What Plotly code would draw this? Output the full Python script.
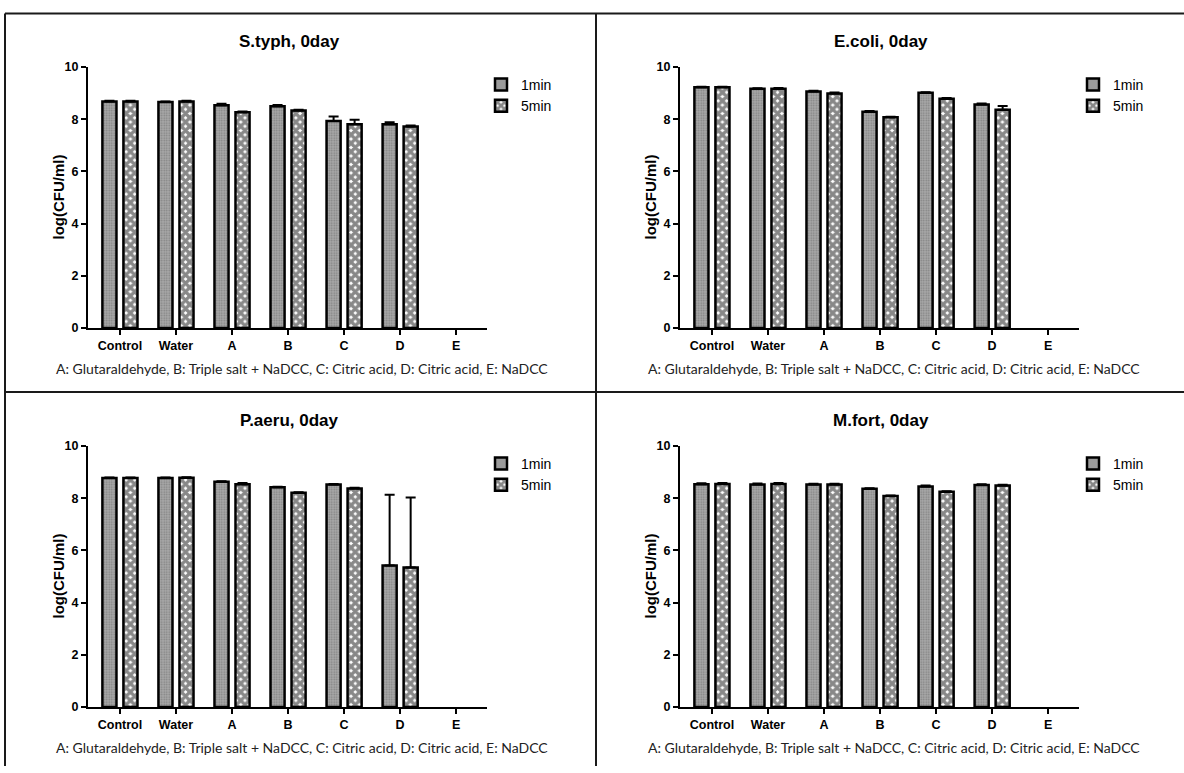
import plotly.graph_objects as go

W, H = 1184, 773

categories = ["Control", "Water", "A", "B", "C", "D", "E"]
series_names = ["1min", "5min"]
footnote = "A: Glutaraldehyde, B: Triple salt + NaDCC, C: Citric acid, D: Citric acid, E: NaDCC"

# mean log(CFU/ml) and upper SD for each organism (E: no colonies recovered)
styph_1 = [8.68, 8.66, 8.53, 8.49, 7.93, 7.80, None]
styph_1_err = [0.02, 0.02, 0.06, 0.05, 0.17, 0.08, None]
styph_5 = [8.68, 8.68, 8.26, 8.33, 7.80, 7.72, None]
styph_5_err = [0.02, 0.02, 0.03, 0.03, 0.18, 0.04, None]

ecoli_1 = [9.22, 9.16, 9.06, 8.28, 9.01, 8.56, None]
ecoli_1_err = [0.02, 0.02, 0.03, 0.03, 0.02, 0.04, None]
ecoli_5 = [9.22, 9.16, 8.98, 8.07, 8.78, 8.36, None]
ecoli_5_err = [0.02, 0.03, 0.04, 0.02, 0.03, 0.14, None]

paeru_1 = [8.77, 8.77, 8.63, 8.42, 8.52, 5.42, None]
paeru_1_err = [0.02, 0.02, 0.02, 0.02, 0.02, 2.71, None]
paeru_5 = [8.77, 8.78, 8.53, 8.21, 8.37, 5.34, None]
paeru_5_err = [0.02, 0.02, 0.05, 0.02, 0.03, 2.68, None]

mfort_1 = [8.53, 8.52, 8.52, 8.36, 8.45, 8.50, None]
mfort_1_err = [0.04, 0.04, 0.03, 0.02, 0.03, 0.03, None]
mfort_5 = [8.54, 8.54, 8.52, 8.08, 8.24, 8.48, None]
mfort_5_err = [0.04, 0.04, 0.03, 0.02, 0.02, 0.03, None]

panels = [
    ("S.typh, 0day", styph_1, styph_1_err, styph_5, styph_5_err),
    ("E.coli, 0day", ecoli_1, ecoli_1_err, ecoli_5, ecoli_5_err),
    ("P.aeru, 0day", paeru_1, paeru_1_err, paeru_5, paeru_5_err),
    ("M.fort, 0day", mfort_1, mfort_1_err, mfort_5, mfort_5_err),
]

# pixel layout of each panel: (left offset, top offset)
offsets = [(0, 0), (592, 0), (0, 386), (592, 386)]
PLOT_L, PLOT_R, PLOT_T, PLOT_B = 88, 487, 61, 327


def px(x):
    return x / W


def py(y):
    return 1 - y / H


FONT = "Liberation Sans, Arial, sans-serif"

fig = go.Figure()
layout = {}

for i, (title, v1, e1, v5, e5) in enumerate(panels):
    n = "" if i == 0 else str(i + 1)
    ox, oy = offsets[i]
    xa, ya = "x" + n, "y" + n
    leg = "legend" + n
    styles = [
        dict(color="#9a9a9a", pattern=dict(shape=".", fgcolor="#5a5a5a",
                                           bgcolor="#a8a8a8", size=2.5, solidity=0.35)),
        dict(color="white", pattern=dict(shape="x", fgcolor="#111111",
                                         bgcolor="white", size=6, solidity=0.8)),
    ]
    for name, vals, errs, st in zip(series_names, [v1, v5], [e1, e5], styles):
        fig.add_trace(go.Bar(
            x=categories, y=vals, name=name, xaxis=xa, yaxis=ya, legend=leg,
            marker=dict(color=st["color"], pattern=st["pattern"],
                        line=dict(color="black", width=2.5)),
            error_y=dict(type="data", array=errs,
                         arrayminus=[0 if e is not None else None for e in errs],
                         symmetric=False, color="black", thickness=2, width=5),
        ))

    layout["xaxis" + n] = dict(
        domain=[px(ox + PLOT_L), px(ox + PLOT_R)], anchor=ya,
        range=[-0.57, 6.55], showline=True, linecolor="black", linewidth=2,
        ticks="outside", ticklen=5, tickwidth=1.5, tickcolor="black",
        showgrid=False, zeroline=False,
        tickfont=dict(family=FONT, size=12.5, color="black", weight="bold"),
    )
    layout["yaxis" + n] = dict(
        domain=[py(oy + PLOT_B), py(oy + PLOT_T)], anchor=xa,
        range=[0, 10], tickvals=[0, 2, 4, 6, 8, 10], showline=True,
        linecolor="black", linewidth=2, ticks="outside", ticklen=5,
        tickwidth=1.5, tickcolor="black", showgrid=False, zeroline=False,
        tickfont=dict(family=FONT, size=12.5, color="black", weight="bold"),
    )
    layout[leg] = dict(
        x=px(ox + 481), y=py(oy + 63), xanchor="left", yanchor="top",
        bgcolor="rgba(0,0,0,0)", tracegroupgap=0,
        font=dict(family=FONT, size=14, color="black"),
    )
    fig.add_annotation(text=title, x=px(ox + 289), y=py(oy + 35), xref="paper",
                       yref="paper", showarrow=False, xanchor="center", yanchor="middle",
                       font=dict(family=FONT, size=17, color="black", weight="bold"))
    fig.add_annotation(text="log(CFU/ml)", x=px(ox + 58), y=py(oy + 194),
                       xref="paper", yref="paper", showarrow=False, textangle=-90,
                       xanchor="center", yanchor="middle",
                       font=dict(family=FONT, size=15, color="black", weight="bold"))
    fig.add_annotation(text=footnote, x=px(ox + 302), y=py(oy + 368),
                       xref="paper", yref="paper", showarrow=False,
                       xanchor="center", yanchor="middle",
                       font=dict(family="Lato, sans-serif", size=14, color="#222222"))

# table grid around the four panels
grid = [
    (5, 6.5, 1184, 6.5),
    (5, 6.5, 5, 773),
    (596, 6.5, 596, 773),
    (5, 392, 1184, 392),
]
for x0, y0, x1, y1 in grid:
    fig.add_shape(type="line", xref="paper", yref="paper",
                  x0=px(x0), y0=py(y0), x1=px(x1), y1=py(y1),
                  line=dict(color="#1a1a1a", width=2))

fig.update_layout(
    width=W, height=H, margin=dict(l=0, r=0, t=0, b=0),
    paper_bgcolor="white", plot_bgcolor="white",
    barmode="group", bargap=0.25, bargroupgap=0.33,
    **layout,
)

fig.write_html("out.html")
